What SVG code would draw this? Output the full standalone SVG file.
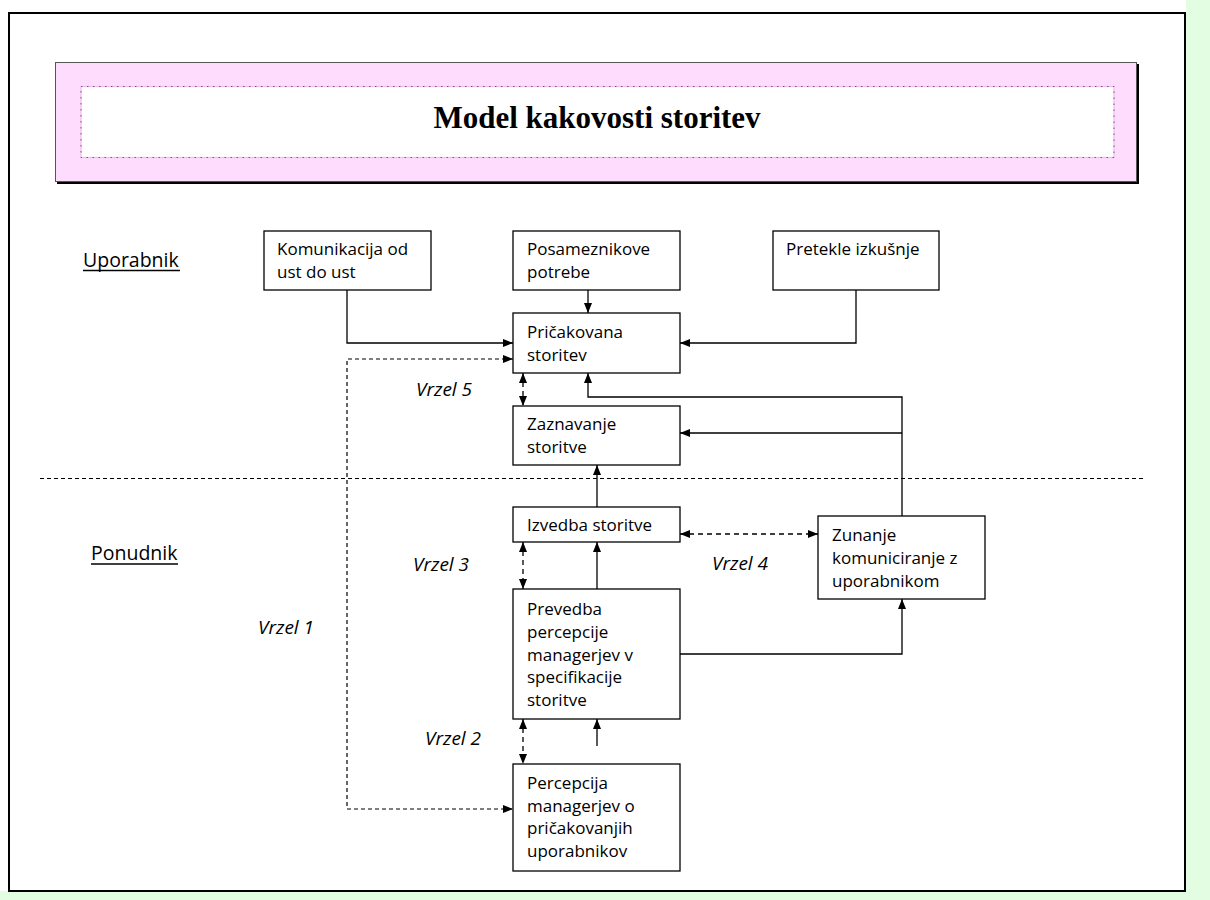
<svg xmlns="http://www.w3.org/2000/svg" width="1210" height="900" viewBox="0 0 1210 900">
  <defs>
    <marker id="arrow" viewBox="0 0 10 8" refX="10" refY="4" markerWidth="10" markerHeight="8" markerUnits="userSpaceOnUse" orient="auto">
      <path d="M0,0 L10,4 L0,8 z" fill="#000"/>
    </marker>
    <marker id="arrow-start" viewBox="0 0 10 8" refX="0" refY="4" markerWidth="10" markerHeight="8" markerUnits="userSpaceOnUse" orient="auto">
      <path d="M10,0 L0,4 L10,8 z" fill="#000"/>
    </marker>
  </defs>
  <style>
    .box { fill: #fff; stroke: #000; stroke-width: 1.3; }
    .txt { font-family: "Open Sans", "Noto Sans", sans-serif; font-size: 17px; fill: #000; }
    .side { font-family: "Open Sans", "Noto Sans", sans-serif; font-size: 19.5px; fill: #000; }
    .gap { font-family: "Open Sans", "Noto Sans", sans-serif; font-size: 19px; font-style: italic; fill: #000; }
    .solid { fill: none; stroke: #000; stroke-width: 1.3; }
    .dash { fill: none; stroke: #000; stroke-width: 1.3; stroke-dasharray: 5 4; }
    .dash-fine { fill: none; stroke: #000; stroke-width: 1.2; stroke-dasharray: 4 3; }
  </style>

  <!-- page background -->
  <rect x="0" y="0" width="1210" height="900" fill="#fff"/>
  <rect x="1186" y="0" width="24" height="900" fill="#e2fde2"/>
  <rect x="0" y="891" width="1210" height="9" fill="#e2fde2"/>
  <rect x="9" y="13" width="1176" height="878" fill="#fff" stroke="#000" stroke-width="2"/>

  <!-- title banner -->
  <g id="title">
    <rect x="57" y="64" width="1082" height="120" fill="#000"/>
    <rect x="55.5" y="62.5" width="1081" height="119" fill="#fedcfe" stroke="#555" stroke-width="1"/>
    <rect x="81" y="86.5" width="1033" height="71" fill="#fff" stroke="#f3b9f3" stroke-width="1.2"/>
    <rect x="81" y="86.5" width="1033" height="71" fill="none" stroke="#666" stroke-width="1" stroke-dasharray="1.5 4.5"/>
    <text x="597" y="128" text-anchor="middle" font-family="'Liberation Serif', 'Times New Roman', serif" font-size="31" font-weight="bold">Model kakovosti storitev</text>
  </g>

  <!-- side labels -->
  <g id="label-uporabnik">
    <text class="side" x="83" y="267">Uporabnik</text>
    <line x1="83" y1="270.5" x2="180" y2="270.5" stroke="#000" stroke-width="1.5"/>
  </g>
  <g id="label-ponudnik">
    <text class="side" x="91" y="560">Ponudnik</text>
    <line x1="91" y1="564" x2="178" y2="564" stroke="#000" stroke-width="1.5"/>
  </g>

  <!-- boundary between customer and provider -->
  <line id="boundary" x1="40" y1="478.5" x2="1145" y2="478.5" stroke="#000" stroke-width="1" stroke-dasharray="4 3"/>

  <!-- nodes -->
  <g id="komunikacija">
    <rect class="box" x="264" y="231" width="167" height="59"/>
    <text class="txt" x="277" y="255">Komunikacija od</text>
    <text class="txt" x="277" y="277.5">ust do ust</text>
  </g>
  <g id="posameznikove">
    <rect class="box" x="513" y="231" width="167" height="59"/>
    <text class="txt" x="527" y="255">Posameznikove</text>
    <text class="txt" x="527" y="277.5">potrebe</text>
  </g>
  <g id="pretekle">
    <rect class="box" x="773" y="231" width="166" height="59"/>
    <text class="txt" x="786" y="255">Pretekle izkušnje</text>
  </g>
  <g id="pricakovana">
    <rect class="box" x="513" y="313" width="167" height="60"/>
    <text class="txt" x="527" y="337.5">Pričakovana</text>
    <text class="txt" x="527" y="360.5">storitev</text>
  </g>
  <g id="zaznavanje">
    <rect class="box" x="513" y="406" width="167" height="59"/>
    <text class="txt" x="527" y="430">Zaznavanje</text>
    <text class="txt" x="527" y="453">storitve</text>
  </g>
  <g id="izvedba">
    <rect class="box" x="513" y="507" width="167" height="35"/>
    <text class="txt" x="527" y="531">Izvedba storitve</text>
  </g>
  <g id="zunanje">
    <rect class="box" x="818" y="516" width="167" height="83"/>
    <text class="txt" x="832" y="541">Zunanje</text>
    <text class="txt" x="832" y="564">komuniciranje z</text>
    <text class="txt" x="832" y="587">uporabnikom</text>
  </g>
  <g id="prevedba">
    <rect class="box" x="513" y="589" width="167" height="130"/>
    <text class="txt" x="527" y="615">Prevedba</text>
    <text class="txt" x="527" y="637.8">percepcije</text>
    <text class="txt" x="527" y="660.6">managerjev v</text>
    <text class="txt" x="527" y="683.4">specifikacije</text>
    <text class="txt" x="527" y="706.2">storitve</text>
  </g>
  <g id="percepcija">
    <rect class="box" x="513" y="764" width="167" height="107"/>
    <text class="txt" x="527" y="789">Percepcija</text>
    <text class="txt" x="527" y="811.5">managerjev o</text>
    <text class="txt" x="527" y="834">pričakovanjih</text>
    <text class="txt" x="527" y="856.5">uporabnikov</text>
  </g>

  <!-- gap labels -->
  <g id="gap-labels">
    <text class="gap" x="416" y="396">Vrzel 5</text>
    <text class="gap" x="413" y="571">Vrzel 3</text>
    <text class="gap" x="712" y="570">Vrzel 4</text>
    <text class="gap" x="258" y="634">Vrzel 1</text>
    <text class="gap" x="425" y="745">Vrzel 2</text>
  </g>

  <!-- connectors -->
  <g id="connectors">
    <path class="solid" d="M347,290 V343 H513" marker-end="url(#arrow)"/>
    <path class="solid" d="M588,290 V313" marker-end="url(#arrow)"/>
    <path class="solid" d="M856,290 V343 H680" marker-end="url(#arrow)"/>
    <path class="solid" d="M902,516 V397 H588 V373" marker-end="url(#arrow)"/>
    <path class="solid" d="M902,433 H680" marker-end="url(#arrow)"/>
    <path class="solid" d="M597,507 V465" marker-end="url(#arrow)"/>
    <path class="solid" d="M597,589 V542" marker-end="url(#arrow)"/>
    <path class="solid" d="M680,654 H902 V599" marker-end="url(#arrow)"/>
    <path class="solid" d="M597,746 V719" marker-end="url(#arrow)"/>

    <path class="dash" d="M523,373 V406" marker-start="url(#arrow-start)" marker-end="url(#arrow)"/>
    <path class="dash" d="M680,534 H818" marker-start="url(#arrow-start)" marker-end="url(#arrow)"/>
    <path class="dash" d="M523,542 V589" marker-start="url(#arrow-start)" marker-end="url(#arrow)"/>
    <path class="dash" d="M523,719 V764" marker-start="url(#arrow-start)" marker-end="url(#arrow)"/>
    <path class="dash-fine" d="M513,359 H347 V809 H513" marker-start="url(#arrow-start)" marker-end="url(#arrow)"/>
  </g>
</svg>
